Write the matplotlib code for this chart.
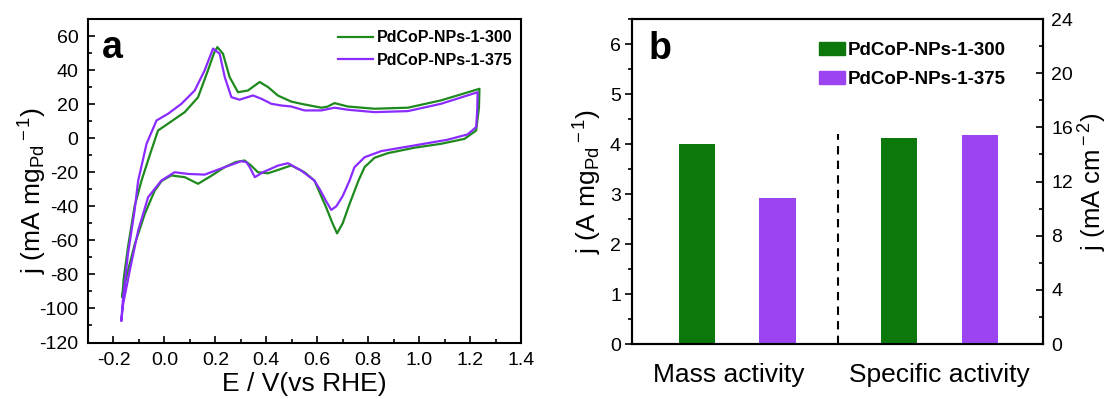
import matplotlib
matplotlib.use("Agg")
import matplotlib.pyplot as plt
from matplotlib.ticker import MultipleLocator
from matplotlib.patches import Patch

plt.rcParams["font.family"] = ["Liberation Sans", "DejaVu Sans"]
plt.rcParams["mathtext.fontset"] = "custom"
plt.rcParams["mathtext.rm"] = "Liberation Sans"
plt.rcParams["mathtext.it"] = "Liberation Sans:italic"
plt.rcParams["axes.unicode_minus"] = False

# ---- CV data, loop: anodic then cathodic ----
E_300 = [-0.165, -0.16, -0.143, -0.117, -0.09, -0.051, -0.025, 0.014, 0.08, 0.132,
         0.171, 0.195, 0.208, 0.23, 0.256, 0.289, 0.328, 0.374, 0.407, 0.446,
         0.498, 0.537, 0.616, 0.64, 0.668, 0.72, 0.825, 0.956, 1.086, 1.237,
         1.235, 1.224, 1.178, 1.086, 0.982, 0.877, 0.825, 0.786, 0.762, 0.727,
         0.70, 0.678, 0.66, 0.635, 0.589, 0.55, 0.498, 0.459, 0.407, 0.367,
         0.34, 0.315, 0.28, 0.237, 0.18, 0.132, 0.08, 0.027, -0.01, -0.038,
         -0.077, -0.116, -0.143, -0.162, -0.165]
j_300 = [-93, -83, -64, -40, -25, -7, 4.5, 8.5, 15.3, 24,
         39.8, 50, 53.5, 49.6, 35.9, 27, 28, 33, 30, 25,
         21.5, 20.2, 17.9, 18.5, 20.6, 18.6, 17.3, 17.9, 22.2, 29,
         18, 4.5, -0.4, -3.3, -5.6, -8.8, -11.5, -17, -24.9, -38.6,
         -50, -55.9, -50, -40.6, -24.9, -20, -16, -18, -20.6, -20,
         -16, -13.1, -14, -17, -22.5, -26.8, -22.9, -21.9, -25, -30.8,
         -44.5, -62.1, -77.8, -89.6, -93]

E_375 = [-0.169, -0.162, -0.143, -0.117, -0.103, -0.07, -0.031, 0.014, 0.067, 0.119,
         0.158, 0.191, 0.217, 0.237, 0.263, 0.295, 0.348, 0.38, 0.42, 0.459,
         0.498, 0.55, 0.616, 0.668, 0.72, 0.825, 0.956, 1.086, 1.23,
         1.228, 1.224, 1.19, 1.112, 0.98, 0.851, 0.786, 0.746, 0.727, 0.70,
         0.675, 0.655, 0.635, 0.61, 0.589, 0.537, 0.485, 0.446, 0.387, 0.355,
         0.335, 0.322, 0.302, 0.237, 0.158, 0.093, 0.04, -0.012, -0.064, -0.103,
         -0.136, -0.162, -0.169]
j_375 = [-107, -93.5, -68, -42.5, -25, -3.3, 10.4, 14.3, 20.2, 28,
         39.8, 52.6, 49.6, 35.9, 24.1, 22.6, 25.1, 23.2, 20.2, 19.2,
         18.6, 16.3, 16.3, 17.9, 16.7, 15.3, 15.9, 20.2, 27,
         16, 6.5, 2.2, -0.9, -4.3, -7.6, -11.2, -17.1, -24.9, -34,
         -40, -42.1, -37, -30, -24.9, -19, -14.7, -16.1, -20, -22.9,
         -17, -14.1, -13.5, -17, -21.4, -21, -20, -24.9, -34.7, -54.3,
         -77.8, -97.4, -107]

# ---- bar data ----
samples = ["PdCoP-NPs-1-300", "PdCoP-NPs-1-375"]
mass_activity = [4.01, 2.92]        # A mg_Pd^-1
specific_activity = [15.2, 15.45]   # mA cm^-2
groups = ["Mass activity", "Specific activity"]

green_line = "#1e8a1e"
purple_line = "#8a2bff"
green_bar = "#0c780c"
purple_bar = "#9b44f0"

fig = plt.figure(figsize=(11.08, 3.99), dpi=100)

# ================= panel a =================
ax1 = fig.add_axes([0.0794, 0.1416, 0.3908, 0.8108])
ax1.plot(E_300, j_300, color=green_line, lw=1.6, label=samples[0])
ax1.plot(E_375, j_375, color=purple_line, lw=1.6, label=samples[1])
ax1.set_xlim(-0.3, 1.4)
ax1.set_ylim(-120, 70)
ax1.xaxis.set_minor_locator(MultipleLocator(0.1))
ax1.yaxis.set_minor_locator(MultipleLocator(10))
ax1.set_xticks([-0.2, 0.0, 0.2, 0.4, 0.6, 0.8, 1.0, 1.2, 1.4])
ax1.set_xticklabels(["-0.2", "0.0", "0.2", "0.4", "0.6", "0.8", "1.0", "1.2", "1.4"])
ax1.set_yticks(range(-120, 61, 20))
ax1.tick_params(which="both", direction="in", top=False, right=False,
                labelsize=14, width=1.2)
ax1.tick_params(which="major", length=5, pad=7)
ax1.tick_params(which="minor", length=3)
ax1.set_xlabel("E / V(vs RHE)", fontsize=19, labelpad=2)
ax1.set_ylabel(r"j (mA mg$_{\rm Pd}$$^{\rm -1}$)", fontsize=19)
ax1.yaxis.set_label_coords(-0.09, 0.47)
for s in ax1.spines.values():
    s.set_linewidth(1.5)
ax1.text(0.032, 0.879, "a", transform=ax1.transAxes, fontsize=27,
         fontweight="bold", va="baseline")
ax1.legend(loc="upper left", bbox_to_anchor=(0.577, 0.965), frameon=False,
           prop={"weight": "bold", "size": 11.5}, handlelength=2.2,
           handletextpad=0.25, labelspacing=0.45, borderpad=0, borderaxespad=0)

# ================= panel b =================
ax2 = fig.add_axes([0.5704, 0.1378, 0.3709, 0.8145])
ax3 = ax2.twinx()
width = 0.45
ax2.bar([0, 1], mass_activity, width=width, color=[green_bar, purple_bar])
ax3.bar([2.5, 3.5], specific_activity, width=width, color=[green_bar, purple_bar])
ax2.plot([1.75, 1.75], [0, 4.2], color="black", lw=1.5, ls=(0, (4, 3)))
ax2.set_xlim(-0.8, 4.28)
ax2.set_ylim(0, 6.5)
ax3.set_ylim(0, 24)
ax2.yaxis.set_major_locator(MultipleLocator(1))
ax2.yaxis.set_minor_locator(MultipleLocator(0.5))
ax3.yaxis.set_major_locator(MultipleLocator(4))
ax3.yaxis.set_minor_locator(MultipleLocator(2))
ax2.set_xticks([0.4, 3.0])
ax2.set_xticklabels(groups, fontsize=19)
ax2.tick_params(axis="x", length=0, pad=14)
ax2.tick_params(axis="y", which="both", direction="out", labelsize=14, width=1.2)
ax2.tick_params(axis="y", which="major", length=5, pad=3)
ax2.tick_params(axis="y", which="minor", length=3)
ax3.tick_params(axis="y", which="both", direction="in", labelsize=14, width=1.2)
ax3.tick_params(axis="y", which="major", length=5, pad=6)
ax3.tick_params(axis="y", which="minor", length=3)
ax2.set_ylabel(r"j (A mg$_{\rm Pd}$$^{\rm -1}$)", fontsize=19)
ax2.yaxis.set_label_coords(-0.068, 0.5)
ax3.set_ylabel(r"j (mA cm$^{\rm -2}$)", fontsize=18.5)
ax3.yaxis.set_label_coords(1.082, 0.5)
for ax in (ax2, ax3):
    for s in ax.spines.values():
        s.set_linewidth(1.5)
ax2.text(0.041, 0.877, "b", transform=ax2.transAxes, fontsize=27,
         fontweight="bold", va="baseline")
handles = [Patch(color=green_bar), Patch(color=purple_bar)]
ax2.legend(handles, samples, loc="upper left", bbox_to_anchor=(0.455, 0.93),
           frameon=False, prop={"weight": "bold", "size": 13.5}, handlelength=1.4,
           handleheight=0.7, handletextpad=0.15, labelspacing=0.65,
           borderpad=0, borderaxespad=0)

fig.savefig("out.png", dpi=100)
